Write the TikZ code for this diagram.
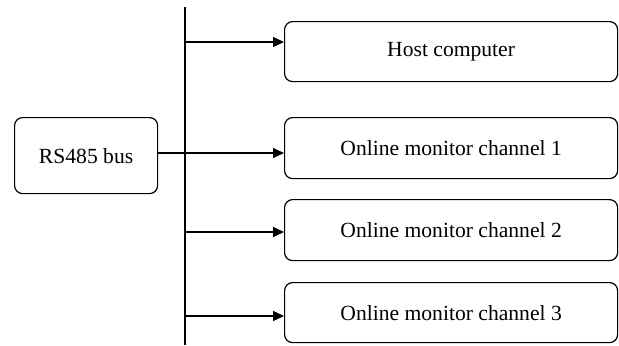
\documentclass[tikz,border=0pt]{standalone}
\usepackage{fontspec}
\setmainfont{Liberation Serif}
\usetikzlibrary{arrows.meta}
\begin{document}
\begin{tikzpicture}[x=0.5pt,y=-0.5pt,
  box/.style={draw, rounded corners=4pt, line width=0.6pt, inner sep=0pt,
    anchor=north west, font=\fontsize{10.8}{13}\selectfont},
  link/.style={-{Triangle[length=5.5pt,width=5pt]}, line width=0.6pt},
  bus/.style={line width=1pt}]
\useasboundingbox (0,0) rectangle (619,345);

% modules
\node[box, minimum width=71.5pt, minimum height=38pt] (rs) at (14,117) {RS485 bus};
\node[box, minimum width=166.5pt, minimum height=30pt] (host) at (284,21) {Host computer};
\node[box, minimum width=166.5pt, minimum height=30.5pt] (ch1) at (284,117) {Online monitor channel 1};
\node[box, minimum width=166.5pt, minimum height=30.5pt] (ch2) at (284,199) {Online monitor channel 2};
\node[box, minimum width=166.5pt, minimum height=30pt] (ch3) at (284,282) {Online monitor channel 3};

% vertical bus line
\coordinate (bt) at (185,7);
\coordinate (bb) at (185,345);
\draw[bus] (bt) -- (bb);

% taps on the bus
\coordinate (t0) at (185,42);
\coordinate (t1) at (rs.east |- 0,153);
\coordinate (t2) at (185,232);
\coordinate (t3) at (185,316);
\draw[link] (t0) -- (t0 -| host.west);
\draw[link] (t1) -- (t1 -| ch1.west);
\draw[link] (t2) -- (t2 -| ch2.west);
\draw[link] (t3) -- (t3 -| ch3.west);
\end{tikzpicture}
\end{document}
